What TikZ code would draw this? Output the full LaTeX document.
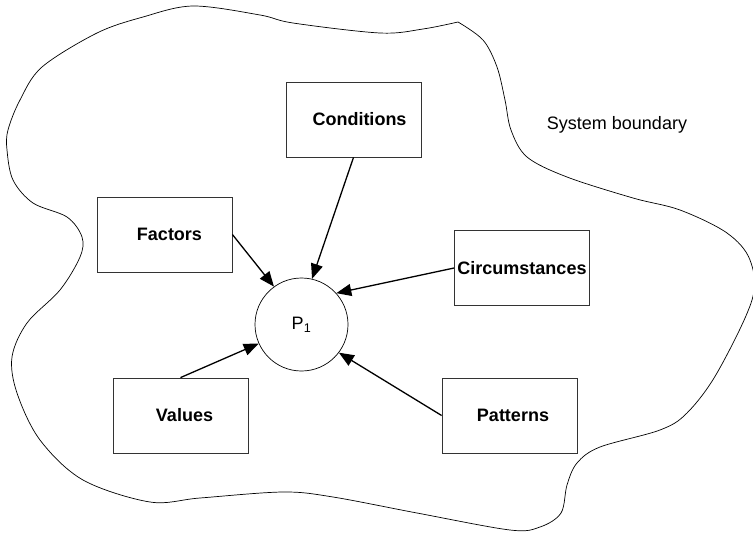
\documentclass[tikz,border=0pt]{standalone}
\usepackage{fontspec}
\setmainfont{Liberation Sans}
\usetikzlibrary{arrows.meta}

\tikzset{
  infl/.style={draw=black!80, line width=0.8pt, minimum width=135pt, minimum height=75pt,
    inner sep=1pt, font=\fontsize{18}{21}\selectfont\bfseries},
  push/.style={-{Triangle[length=15pt,width=12pt]}, line width=1.3pt}
}

\begin{document}
\begin{tikzpicture}[x=1pt,y=-1pt]
  \useasboundingbox (0,0) rectangle (753,533);

  % system boundary, starting at the sharp corner on top
  \draw[line width=0.7pt] plot[smooth, tension=0.55] coordinates {
      (458,22) (483,40) (497,67) (505,100) (511,130) (527,157) (567,177)
      (633,198) (680,210) (727,233) (750,260) (752,300) (717,373) (687,413)
      (660,430) (600,447) (577,463) (567,485) (561,513) (540,527) (510,530)
      (417,513) (333,497) (283,492) (200,498) (150,502) (83,480) (40,440)
      (17,393) (12,357) (27,323) (60,290) (80,257) (82,237) (67,217)
      (33,203) (13,180) (7,150) (8,130) (20,100) (42,67) (97,33) (143,17)
      (193,6) (260,15) (293,23) (380,33) (423,29) (458,22)} -- cycle;

  \node[font=\fontsize{18}{21}\selectfont] (sysb) at (617,125) {System boundary};

  \node[draw, circle, line width=0.7pt, minimum size=93pt, inner sep=0pt,
        font=\fontsize{18}{21}\selectfont] (p1) at (301.5,324.5) {P\textsubscript{1}};

  \node[infl] (cond) at (353.5,119.5) {\hspace*{12pt}Conditions};
  \node[infl] (fact) at (164.5,234.5) {\hspace*{10pt}Factors};
  \node[infl] (circ) at (522,268)     {Circumstances};
  \node[infl] (vals) at (180.5,415.5) {\hspace*{8pt}Values};
  \node[infl] (patt) at (509.5,415.5) {\hspace*{7pt}Patterns};

  \draw[push] (cond.south) -- (p1.77);
  \draw[push] (fact.east)  -- (p1.126);
  \draw[push] (circ.west)  -- (p1.42);
  \draw[push] (vals.north) -- (p1.204);
  \draw[push] (patt.west)  -- (p1.-37);
\end{tikzpicture}
\end{document}
